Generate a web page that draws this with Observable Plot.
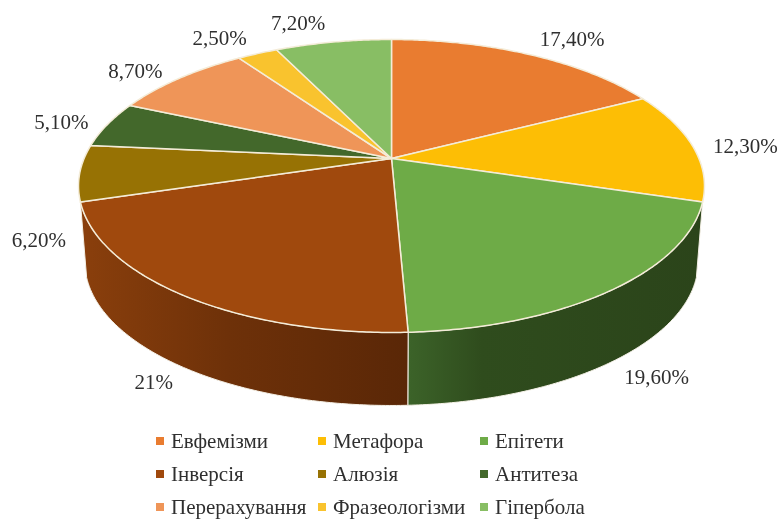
<!DOCTYPE html>
<html>
<head>
<meta charset="utf-8">
<script src="https://cdn.jsdelivr.net/npm/d3@7"></script>
<script src="https://cdn.jsdelivr.net/npm/@observablehq/plot@0.6"></script>
<style>
html,body{margin:0;padding:0;background:#fff;overflow:hidden;width:777px;height:519px}
#chart svg{display:block}
#wrap{filter:blur(0.45px)}
#legend{display:grid;grid-template-columns:162px 162px 130px;grid-auto-rows:33px;margin:4px 0 0 156px;font:21px "Liberation Serif",serif;color:#2f2f2f;line-height:24px;white-space:nowrap}
#legend span.item{display:flex;align-items:center}
#legend i{display:inline-block;width:8px;height:8px;margin-right:7px}
</style>
</head>
<body>
<div id="wrap">
<div id="chart"></div>
<div id="legend"></div>
</div>
<script>
const categories = ["Евфемізми","Метафора","Епітети","Інверсія","Алюзія","Антитеза","Перерахування","Фразеологізми","Гіпербола"];
const values = [17.4,12.3,19.6,21,6.2,5.1,8.7,2.5,7.2];
const valueLabels = ["17,40%","12,30%","19,60%","21%","6,20%","5,10%","8,70%","2,50%","7,20%"];
const colors = ["#E97C30","#FDBE05","#6EAB47","#A0490D","#977204","#43682B","#EF9558","#F9C32E","#88BE64"];
const labelShiftX = [43,53,44,-28,-41,-46,-44,-38,-35];
const labelShiftY = [-15,0,88,88,67,-2,-7,-15,-19];

const W = 777, H = 420;
// Perspective projection of the pie disc
const cx = 391, cy = 158, R = 307.4, S = 141.3, P = 0.1877, lowerScale = 0.98, depth = 76.5;
function project(a, lower){
  const X = Math.sin(a), Y = -Math.cos(a), w = 1 - P*Y;
  const k = lower ? lowerScale : 1, d = lower ? depth : 0;
  return [cx + k*R*X/w, cy + k*S*Y/w + d];
}
const pie = d3.pie().sort(null).value(d=>d)(values);
function arc(a0,a1,lower){
  const n = Math.max(2,Math.ceil((a1-a0)/0.01)), pts=[];
  for(let i=0;i<=n;i++) pts.push(project(a0+(a1-a0)*i/n,lower));
  return pts;
}
const topRows = pie.flatMap((p,i)=>{
  const ring=[[cx,cy],...arc(p.startAngle,p.endAngle,false),[cx,cy]];
  return ring.map(([x,y])=>({x,y,key:categories[i]}));
});
function sideRows(i){
  const p = pie[i];
  const ring=[...arc(p.startAngle,p.endAngle,false),...arc(p.startAngle,p.endAngle,true).reverse()];
  ring.push(ring[0]);
  return ring.map(([x,y])=>({x,y}));
}
const labelRows = pie.map((p,i)=>{
  const [x,y]=project((p.startAngle+p.endAngle)/2,false);
  return {x:x+labelShiftX[i],y:y+labelShiftY[i],label:valueLabels[i]};
});
function gradients(){
  const defs=d3.create("svg:defs");
  const mk=(id,stops)=>{
    const g=defs.append("linearGradient").attr("id",id).attr("x1",0).attr("x2",1).attr("y1",0).attr("y2",0);
    stops.forEach(([o,c])=>g.append("stop").attr("offset",o).attr("stop-color",c));
  };
  mk("sideGreen",[[0,"#3c6329"],[0.25,"#2f4c1d"],[1,"#2b441a"]]);
  mk("sideBrown",[[0,"#8a3f0c"],[0.45,"#6e3109"],[1,"#5a2707"]]);
  return defs.node();
}
const chart = Plot.plot({
  width:W,height:H,margin:0,
  x:{domain:[0,W],range:[0,W],axis:null},
  y:{domain:[0,H],range:[0,H],axis:null},
  color:{domain:categories,range:colors},
  style:{background:"transparent"},
  marks:[
    gradients,
    Plot.line(sideRows(2),{x:"x",y:"y",fill:"url(#sideGreen)",stroke:"#f4f0e6",strokeWidth:1}),
    Plot.line(sideRows(3),{x:"x",y:"y",fill:"url(#sideBrown)",stroke:"#f4f0e6",strokeWidth:1}),
    Plot.line(topRows,{x:"x",y:"y",z:"key",fill:"key",stroke:"#f4ecd8",strokeWidth:1.5,strokeLinejoin:"round"}),
    Plot.text(labelRows,{x:"x",y:"y",text:"label",fontFamily:"Liberation Serif",fontSize:21,fill:"#2f2f2f"})
  ]
});
document.getElementById("chart").appendChild(chart);
const legend=d3.select("#legend");
categories.forEach((c,i)=>{
  const it=legend.append("span").attr("class","item");
  it.append("i").style("background",colors[i]);
  it.append("span").text(c);
});
</script>
</body>
</html>
